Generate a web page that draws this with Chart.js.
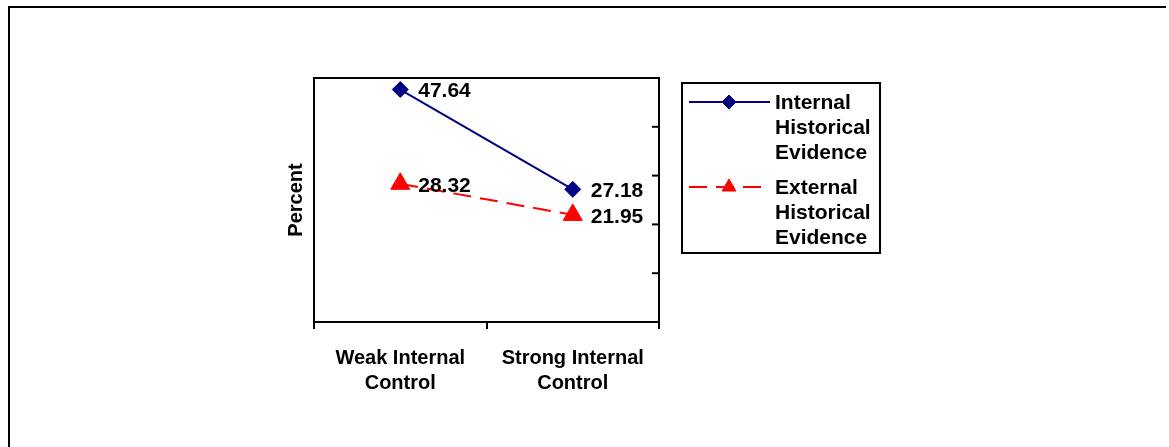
<!DOCTYPE html>
<html>
<head>
<meta charset="utf-8">
<script src="https://cdn.jsdelivr.net/npm/chart.js@4.4.1/dist/chart.umd.min.js"></script>
<style>
html,body{margin:0;padding:0;background:#fff;overflow:hidden;}
#wrap{width:1169px;height:447px;}
</style>
</head>
<body>
<div id="wrap"><canvas id="c" width="1169" height="447"></canvas></div>
<script>
const categories = [['Weak Internal', 'Control'], ['Strong Internal', 'Control']];
const internalValues = [47.64, 27.18];
const externalValues = [28.32, 21.95];
const seriesNames = [['Internal', 'Historical', 'Evidence'], ['External', 'Historical', 'Evidence']];
const yMin = 0, yMax = 50, yStep = 10;

const FAMILY = '"Liberation Sans", Arial, sans-serif';
const LABEL_FONT = 'bold 21px ' + FAMILY;
const LEGEND_FONT = 'bold 21px ' + FAMILY;

const framePlugin = {
  id: 'frame',
  beforeDraw(chart) {
    const ctx = chart.ctx;
    ctx.save();
    ctx.strokeStyle = '#000';
    ctx.lineWidth = 2;
    ctx.beginPath();
    ctx.moveTo(9, 447);
    ctx.lineTo(9, 7);
    ctx.lineTo(1166, 7);
    ctx.stroke();
    ctx.restore();
  },
  beforeDatasetsDraw(chart) {
    const {ctx, chartArea: a, scales} = chart;
    ctx.save();
    ctx.strokeStyle = '#000';
    ctx.lineWidth = 2;
    ctx.strokeRect(a.left, a.top, a.right - a.left, a.bottom - a.top);
    scales.y.ticks.forEach(t => {
      const y = scales.y.getPixelForValue(t.value);
      ctx.beginPath();
      ctx.moveTo(a.right - 7, y);
      ctx.lineTo(a.right, y);
      ctx.stroke();
    });
    ctx.restore();
  },
  afterDatasetsDraw(chart) {
    const ctx = chart.ctx;
    ctx.save();
    ctx.font = LABEL_FONT;
    ctx.fillStyle = '#000';
    ctx.textAlign = 'left';
    ctx.textBaseline = 'middle';
    chart.data.datasets.forEach((ds, i) => {
      chart.getDatasetMeta(i).data.forEach((pt, j) => {
        ctx.fillText(ds.data[j].toFixed(2), pt.x + 18, pt.y + 2);
      });
    });
    ctx.restore();
  },
  afterDraw(chart) {
    const ctx = chart.ctx;
    const bx = 682, by = 83, bw = 198, bh = 170;
    ctx.save();
    ctx.strokeStyle = '#000';
    ctx.lineWidth = 2;
    ctx.strokeRect(bx, by, bw, bh);
    const entryY = [102, 187];
    chart.data.datasets.forEach((ds, i) => {
      const y = entryY[i];
      ctx.save();
      ctx.strokeStyle = ds.borderColor;
      ctx.lineWidth = ds.borderWidth;
      ctx.setLineDash(ds.borderDash || []);
      ctx.beginPath();
      ctx.moveTo(689, y);
      ctx.lineTo(i === 0 ? 770 : 764, y);
      ctx.stroke();
      ctx.restore();
      ctx.fillStyle = ds.pointBackgroundColor;
      ctx.strokeStyle = ds.pointBorderColor;
      ctx.lineWidth = 1;
      Chart.helpers.drawPoint(ctx, {pointStyle: ds.pointStyle, radius: i === 0 ? 7 : 8, borderWidth: 1, rotation: 0}, 729, y);
      ctx.font = LEGEND_FONT;
      ctx.fillStyle = '#000';
      ctx.textAlign = 'left';
      ctx.textBaseline = 'middle';
      seriesNames[i].forEach((s, k) => ctx.fillText(s, 775, y + k * 25 + 1));
    });
    ctx.restore();
  }
};

new Chart(document.getElementById('c'), {
  type: 'line',
  data: {
    labels: categories,
    datasets: [
      {
        label: seriesNames[0].join(' '),
        data: internalValues,
        borderColor: '#000080',
        backgroundColor: '#000080',
        pointBackgroundColor: '#000080',
        pointBorderColor: '#000080',
        borderWidth: 2,
        pointStyle: 'rectRot',
        pointRadius: 8,
        pointBorderWidth: 1,
        fill: false,
        tension: 0,
        clip: false
      },
      {
        label: seriesNames[1].join(' '),
        data: externalValues,
        borderColor: '#FF0000',
        backgroundColor: '#FF0000',
        pointBackgroundColor: '#FF0000',
        pointBorderColor: '#FF0000',
        borderWidth: 2,
        borderDash: [18, 9],
        pointStyle: 'triangle',
        pointRadius: 11,
        pointBorderWidth: 1,
        fill: false,
        tension: 0,
        clip: false
      }
    ]
  },
  options: {
    responsive: false,
    animation: false,
    events: [],
    layout: { padding: { left: 284, right: 510, top: 78, bottom: 25 } },
    plugins: { legend: { display: false }, tooltip: { enabled: false }, title: { display: false } },
    scales: {
      x: {
        type: 'category',
        offset: true,
        afterFit(s) { s.height = 100; },
        grid: { display: true, drawOnChartArea: false, drawTicks: true, tickLength: 7, color: '#000', lineWidth: 2, offset: true },
        border: { display: false },
        ticks: { color: '#000', font: { family: FAMILY, size: 20, weight: 'bold', lineHeight: 1.25 }, padding: 17, maxRotation: 0, autoSkip: false }
      },
      y: {
        min: yMin,
        max: yMax,
        afterFit(s) { s.width = 30; },
        ticks: { display: false, stepSize: yStep },
        grid: { display: false },
        border: { display: false },
        title: { display: true, text: 'Percent', color: '#000', padding: 0, font: { family: FAMILY, size: 20, weight: 'bold', lineHeight: 1.2 } }
      }
    }
  },
  plugins: [framePlugin]
});
</script>
</body>
</html>
